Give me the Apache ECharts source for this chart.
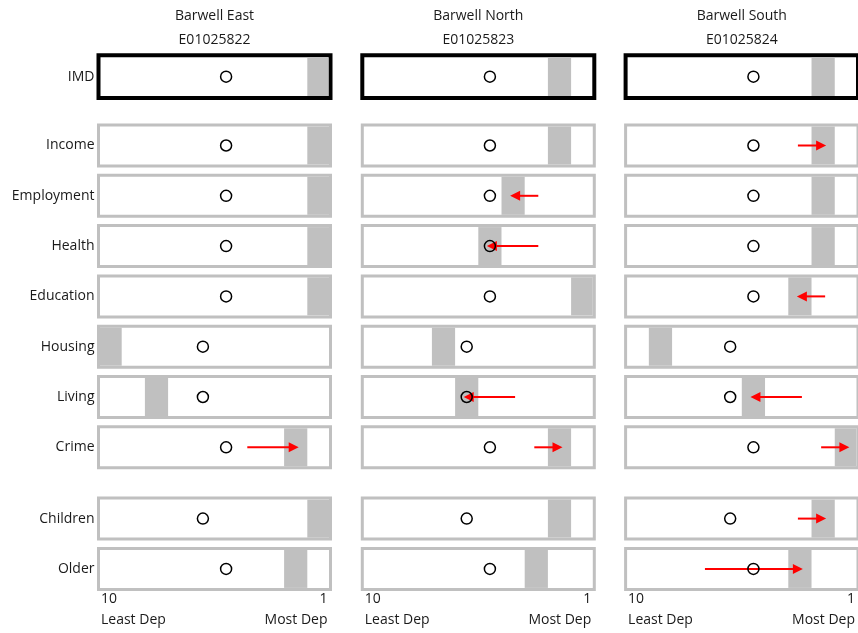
<!DOCTYPE html>
<html>
<head>
<meta charset="utf-8">
<title>Barwell deprivation deciles</title>
<script src="https://cdn.jsdelivr.net/npm/echarts@6/dist/echarts.min.js"></script>
<style>
  html, body { margin: 0; padding: 0; background: #fff; }
  #chart { width: 858px; height: 633px; }
</style>
</head>
<body>
<div id="chart"></div>
<script>
// areas (columns)
const areaNames = ["Barwell East", "Barwell North", "Barwell South"];
const areaCodes = ["E01025822", "E01025823", "E01025824"];
// domains (rows)
const domains = ["IMD", "Income", "Employment", "Health", "Education", "Housing", "Living", "Crime", "Children", "Older"];
// district decile, shown as the circle
const districtDecile = [5, 5, 5, 5, 5, 6, 6, 5, 6, 5];
// current decile of each area (grey band), 1 = most deprived
const eastDecile = [1, 1, 1, 1, 1, 10, 8, 2, 1, 2];
const northDecile = [2, 2, 4, 5, 1, 7, 6, 2, 2, 3];
const southDecile = [2, 2, 2, 2, 3, 9, 5, 1, 2, 3];
// previous decile (red arrow starts here when it changed)
const eastPrevDecile = [1, 1, 1, 1, 1, 10, 8, 4, 1, 2];
const northPrevDecile = [2, 2, 3, 3, 1, 7, 4, 3, 2, 3];
const southPrevDecile = [2, 3, 2, 2, 2, 9, 3, 2, 3, 7];
// axis end labels
const tickLabels = ["10", "1"];
const endLabels = ["Least Dep", "Most Dep"];

const currentDeciles = [eastDecile, northDecile, southDecile];
const prevDeciles = [eastPrevDecile, northPrevDecile, southPrevDecile];

const FONT = "Open Sans";
const TEXT = "#1a1a1a";
const GREY = "#c0c0c0";

// layout
const colLeft = [98.5, 362.3, 625.6];
const colWidth = [232, 232, 235];
const rowTop = (r) => (r === 0 ? 55.3 : 125 + (r - 1) * 50.3 + (r >= 8 ? 21 : 0));
const rowHeight = (r) => (r === 0 ? 42.7 : 41);
const rowBorder = (r) => (r === 0 ? 4 : 3);

const grid = [];
const xAxis = [];
const yAxis = [];
const series = [];

domains.forEach((domain, r) => {
  areaNames.forEach((area, c) => {
    const idx = grid.length;
    const bw = rowBorder(r);
    grid.push({
      left: colLeft[c],
      top: rowTop(r),
      width: colWidth[c],
      height: rowHeight(r),
      show: true,
      backgroundColor: "#fff",
      borderColor: r === 0 ? "#000" : GREY,
      borderWidth: bw,
    });
    xAxis.push({
      type: "value",
      gridIndex: idx,
      min: 0.5,
      max: 10.5,
      inverse: true,
      show: false,
    });
    yAxis.push({
      type: "category",
      gridIndex: idx,
      data: [domain],
      axisLine: { show: false },
      axisTick: { show: false },
      splitLine: { show: false },
      axisLabel: {
        show: c === 0,
        margin: 4,
        color: TEXT,
        fontSize: 14,
        fontFamily: FONT,
      },
    });

    // grey band for the area's decile
    series.push({
      type: "custom",
      xAxisIndex: idx,
      yAxisIndex: idx,
      silent: true,
      data: [[currentDeciles[c][r], 0]],
      renderItem: (params, api) => {
        const cs = params.coordSys;
        const inset = bw / 2;
        const a = api.coord([api.value(0) + 0.5, 0])[0];
        const b = api.coord([api.value(0) - 0.5, 0])[0];
        const x1 = Math.max(a, cs.x + inset);
        const x2 = Math.min(b, cs.x + cs.width - inset);
        return {
          type: "rect",
          shape: { x: x1, y: cs.y + inset, width: x2 - x1, height: cs.height - 2 * inset },
          style: { fill: GREY },
        };
      },
    });

    // district circle
    series.push({
      type: "scatter",
      xAxisIndex: idx,
      yAxisIndex: idx,
      silent: true,
      symbol: "circle",
      symbolSize: 11,
      itemStyle: { color: "rgba(0,0,0,0)", borderColor: "#000", borderWidth: 1.5, opacity: 1 },
      data: [[districtDecile[r], 0]],
    });

    // change arrow
    const prev = prevDeciles[c][r];
    const cur = currentDeciles[c][r];
    series.push({
      type: "custom",
      xAxisIndex: idx,
      yAxisIndex: idx,
      silent: true,
      encode: { x: [0, 1], y: 2 },
      data: prev !== cur ? [[prev, cur, 0]] : [],
      renderItem: (params, api) => {
        const from = api.coord([api.value(0), 0]);
        const to = api.coord([api.value(1), 0]);
        const dir = Math.sign(to[0] - from[0]);
        const y = to[1];
        const tail = from[0] - dir * 2;
        const tip = to[0] + dir * 3;
        return {
          type: "group",
          children: [
            {
              type: "line",
              shape: { x1: tail, y1: y, x2: tip - dir * 8, y2: y },
              style: { stroke: "#ff0000", lineWidth: 2 },
            },
            {
              type: "polygon",
              shape: { points: [[tip, y], [tip - dir * 10, y - 5], [tip - dir * 10, y + 5]] },
              style: { fill: "#ff0000" },
            },
          ],
        };
      },
    });
  });
});

const options = {
  animation: false,
  backgroundColor: "#fff",
  grid,
  xAxis,
  yAxis,
  series,
};

const chart = echarts.init(document.getElementById("chart"));
chart.setOption(options);

// titles and axis end labels, placed with the axes' own scales
const graphic = [];
const lastRow = domains.length - 1;
areaNames.forEach((area, c) => {
  const top = c; // first row grid index
  const bottom = lastRow * areaNames.length + c;
  const mid = chart.convertToPixel({ xAxisIndex: top }, 5.5);
  graphic.push({
    type: "text",
    x: mid,
    y: 16,
    style: { text: area, fill: TEXT, font: `14px "${FONT}"`, align: "center", verticalAlign: "middle" },
  });
  graphic.push({
    type: "text",
    x: mid,
    y: 40,
    style: { text: areaCodes[c], fill: TEXT, font: `14px "${FONT}"`, align: "center", verticalAlign: "middle" },
  });
  const leftX = chart.convertToPixel({ xAxisIndex: bottom }, 10.5);
  const rightX = chart.convertToPixel({ xAxisIndex: bottom }, 0.5);
  [leftX + 2.5, rightX - 3].forEach((x, i) => {
    const align = i === 0 ? "left" : "right";
    graphic.push({
      type: "text",
      x,
      y: 599.5,
      style: { text: tickLabels[i], fill: TEXT, font: `14px "${FONT}"`, align, verticalAlign: "middle" },
    });
    graphic.push({
      type: "text",
      x,
      y: 620,
      style: { text: endLabels[i], fill: TEXT, font: `14px "${FONT}"`, align, verticalAlign: "middle" },
    });
  });
});
chart.setOption({ graphic });

window.addEventListener("resize", () => {
  chart.resize();
});
</script>
</body>
</html>
